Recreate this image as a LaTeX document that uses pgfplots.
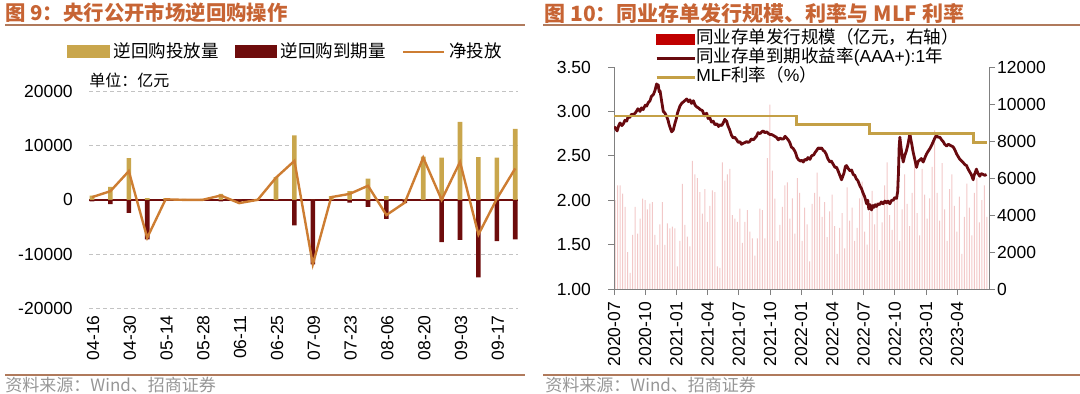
\documentclass[border=0pt]{standalone}
\usepackage{fontspec}
\setmainfont{Liberation Sans}
\newfontfamily\cjk{Noto Sans CJK SC}
\usepackage{pgfplots}
\usepackage{pgfplotstable}
\pgfplotsset{compat=1.18}
\definecolor{titlecol}{RGB}{199,100,52}
\definecolor{rulecol}{RGB}{176,122,92}
\definecolor{srccol}{RGB}{150,150,150}
\definecolor{tanbar}{RGB}{201,166,76}
\definecolor{darkbar}{RGB}{110,12,12}
\definecolor{netline}{RGB}{205,125,50}
\definecolor{gridgray}{RGB}{195,195,195}
\definecolor{yieldcol}{RGB}{105,10,15}
\definecolor{mlfcol}{RGB}{196,160,70}
\definecolor{pinkbar}{RGB}{242,200,200}
\definecolor{legred}{RGB}{192,0,0}
\definecolor{axisgray}{RGB}{128,128,128}

\pgfplotstableread{
i tan dark net
0 800 -300 500
1 2400 -800 1600
2 7700 -2400 5300
3 300 -7300 -7000
4 300 -200 100
5 200 -200 0
6 200 -200 0
7 1100 -300 800
8 0 -600 -600
9 200 -200 0
10 4200 -100 4100
11 11900 -4700 7200
12 0 -11900 -11900
13 700 -200 500
14 1600 -500 1100
15 3900 -1300 2600
16 700 -3500 -2800
17 100 -600 -500
18 8000 -200 7800
19 7800 -7800 0
20 14400 -7400 7000
21 7900 -14300 -6400
22 7800 -7600 200
23 13100 -7300 5800
}\repo

\pgfplotstableread{
m v
0.00 2.80
0.10 2.82
0.30 2.78
0.45 2.84
0.58 2.87
0.75 2.84
0.90 2.86
1.05 2.90
1.22 2.89
1.35 2.94
1.50 2.93
1.70 2.97
1.86 2.96
2.10 2.99
2.30 3.03
2.50 3.00
2.65 3.04
2.80 3.02
3.00 3.07
3.14 3.06
3.30 3.10
3.46 3.12
3.60 3.17
3.79 3.19
3.95 3.24
4.10 3.31
4.18 3.27
4.25 3.30
4.35 3.22
4.43 3.23
4.60 3.10
4.74 3.00
4.90 2.98
5.07 2.94
5.20 2.90
5.30 2.85
5.45 2.80
5.54 2.77
5.70 2.79
5.87 2.87
6.00 2.92
6.10 2.98
6.22 3.02
6.34 3.06
6.50 3.09
6.60 3.10
6.80 3.12
6.99 3.14
7.15 3.11
7.30 3.13
7.45 3.09
7.63 3.12
7.80 3.07
7.95 3.05
8.11 3.04
8.30 3.02
8.50 3.01
8.70 2.95
8.91 2.98
9.05 2.92
9.20 2.93
9.38 2.88
9.55 2.89
9.70 2.85
9.90 2.86
10.05 2.83
10.20 2.85
10.35 2.84
10.50 2.87
10.65 2.91
10.83 2.89
10.95 2.84
11.10 2.80
11.30 2.73
11.47 2.70
11.60 2.71
11.80 2.68
11.95 2.65
12.11 2.66
12.25 2.63
12.40 2.64
12.60 2.65
12.75 2.66
12.90 2.65
13.05 2.66
13.20 2.69
13.40 2.68
13.55 2.70
13.70 2.72
13.85 2.76
14.04 2.75
14.20 2.77
14.35 2.78
14.50 2.76
14.68 2.77
14.85 2.75
15.00 2.74
15.15 2.74
15.31 2.73
15.45 2.72
15.60 2.71
15.80 2.68
15.95 2.70
16.10 2.69
16.30 2.69
16.45 2.72
16.60 2.70
16.75 2.68
16.90 2.65
17.05 2.60
17.24 2.58
17.40 2.55
17.50 2.52
17.60 2.48
17.72 2.46
17.90 2.44
18.05 2.45
18.20 2.43
18.35 2.46
18.50 2.45
18.65 2.48
18.84 2.46
19.00 2.50
19.20 2.51
19.35 2.54
19.48 2.56
19.65 2.59
19.80 2.58
19.95 2.59
20.12 2.56
20.25 2.55
20.40 2.52
20.55 2.47
20.76 2.43
20.90 2.44
21.10 2.40
21.25 2.37
21.40 2.37
21.55 2.33
21.65 2.30
21.78 2.26
21.88 2.23
22.00 2.27
22.10 2.30
22.25 2.38
22.36 2.39
22.50 2.36
22.70 2.33
22.85 2.34
23.00 2.29
23.15 2.28
23.30 2.24
23.45 2.22
23.65 2.16
23.80 2.13
23.95 2.08
24.10 2.04
24.29 1.96
24.40 2.00
24.50 1.90
24.62 1.95
24.76 1.89
24.90 1.94
25.00 1.92
25.12 1.95
25.24 1.93
25.40 1.96
25.55 1.95
25.70 1.98
25.88 1.96
26.05 1.99
26.20 1.97
26.35 1.99
26.52 1.96
26.70 2.00
26.85 2.00
27.00 2.03
27.17 2.02
27.28 2.10
27.35 2.30
27.42 2.60
27.49 2.71
27.57 2.62
27.65 2.55
27.75 2.47
27.81 2.43
27.95 2.50
28.10 2.55
28.25 2.62
28.38 2.70
28.45 2.75
28.55 2.68
28.65 2.62
28.75 2.55
28.92 2.46
29.09 2.37
29.25 2.44
29.40 2.45
29.55 2.47
29.73 2.43
29.90 2.48
30.05 2.52
30.20 2.55
30.37 2.58
30.55 2.62
30.70 2.66
30.85 2.70
31.01 2.73
31.15 2.71
31.33 2.71
31.50 2.68
31.65 2.66
31.80 2.63
31.98 2.61
32.15 2.63
32.30 2.62
32.45 2.61
32.62 2.60
32.80 2.56
32.95 2.52
33.10 2.49
33.26 2.46
33.45 2.44
33.60 2.42
33.75 2.40
33.90 2.39
34.05 2.35
34.20 2.32
34.35 2.29
34.54 2.23
34.62 2.28
34.70 2.30
34.85 2.35
35.00 2.30
35.17 2.27
35.30 2.30
35.50 2.29
35.65 2.28
35.82 2.29
}\yield

\pgfplotstableread{
m v
0.00 2.95
17.56 2.95
17.56 2.85
24.54 2.85
24.54 2.75
34.54 2.75
34.54 2.65
35.82 2.65
}\mlf

\pgfplotstableread{
m v
0.10 4800
0.34 5600
0.58 5600
0.82 5150
1.06 4440
1.30 2000
1.54 870
1.78 2920
2.02 4440
2.26 3000
2.50 3810
2.74 4880
2.98 4800
3.22 4300
3.46 4620
3.70 4700
3.94 2920
4.18 2390
4.42 3500
4.66 4700
4.90 2390
5.14 3550
5.38 3280
5.62 3370
5.86 3280
6.10 1230
6.34 2600
6.58 5680
6.82 3460
7.06 2830
7.30 2300
7.54 6930
7.78 6200
8.02 6000
8.26 5240
8.50 4080
8.74 5400
8.98 3630
9.22 4500
9.46 5330
9.70 5240
9.94 1230
10.18 1140
10.42 6840
10.66 5860
10.90 6200
11.14 6500
11.38 3990
11.62 3810
11.86 3630
12.10 4350
12.34 2500
12.58 3630
12.82 4260
13.06 3100
13.30 2740
13.54 1800
13.78 2740
14.02 4350
14.26 4260
14.50 2740
14.74 7080
14.98 9970
15.22 6400
15.46 4880
15.70 2600
15.94 3460
16.18 4440
16.42 5600
16.66 5770
16.90 3800
17.14 4900
17.38 3000
17.62 6000
17.86 5200
18.10 2600
18.34 4400
18.58 3500
18.82 1500
19.06 4600
19.30 5200
19.54 6290
19.78 5000
20.02 3900
20.26 4700
20.50 2800
20.74 4200
20.98 5100
21.22 3400
21.46 1900
21.70 3300
21.94 4100
22.18 2200
22.42 5500
22.66 3700
22.90 4400
23.14 2600
23.38 3300
23.62 4900
23.86 5800
24.10 3100
24.34 2400
24.58 4200
24.82 5300
25.06 3500
25.30 4700
25.54 2100
25.78 3600
26.02 5600
26.26 6840
26.50 4000
26.74 3200
26.98 5000
27.22 6000
27.46 2600
27.70 4300
27.94 6200
28.18 4600
28.42 3400
28.66 5200
28.90 7000
29.14 4100
29.38 2900
29.62 6500
29.86 5100
30.10 3800
30.34 4900
30.58 6600
30.82 8580
31.06 5200
31.30 3700
31.54 6800
31.78 4300
32.02 2600
32.26 5400
32.50 6200
32.74 4500
32.98 3100
33.22 5000
33.46 1900
33.70 3900
33.94 5700
34.18 4400
34.42 2900
34.66 5200
34.90 6000
35.14 3600
35.38 4800
35.62 5600
35.86 3900
}\ncd

\begin{document}
\begin{tikzpicture}
\path[use as bounding box] (0pt,0pt) rectangle (540pt,196.5pt);

% ---------- Left panel ----------
\node[anchor=west, inner sep=0pt, text=titlecol, font=\cjk\bfseries\fontsize{10.2pt}{12pt}\selectfont] at (2.5pt,190pt) {图 9：央行公开市场逆回购操作};
\draw[rulecol, line width=1pt] (2.5pt,184pt) -- (262.5pt,184pt);
\draw[rulecol, line width=1pt] (2.5pt,9pt) -- (262.5pt,9pt);
\node[anchor=west, inner sep=0pt, text=srccol, font=\cjk\fontsize{8.5pt}{10pt}\selectfont] at (2.5pt,4pt) {资料来源：Wind、招商证券};
\node[anchor=west, inner sep=0pt, font=\cjk\fontsize{8pt}{9pt}\selectfont] at (44.5pt,156.5pt) {单位：亿元};

\begin{axis}[
  at={(44.5pt,42.4pt)}, anchor=south west, scale only axis,
  width=214.5pt, height=108.35pt,
  xmin=-0.163, xmax=23.15, ymin=-20000, ymax=20000,
  scaled x ticks=false, scaled y ticks=false,
  axis line style={draw=none}, major tick length=0pt,
  xtick={0,2,...,22},
  xticklabels={04-16,04-30,05-14,05-28,06-11,06-25,07-09,07-23,08-06,08-20,09-03,09-17},
  xticklabel style={rotate=90, anchor=east, font=\fontsize{8.75pt}{10pt}\selectfont, yshift=-0.5pt},
  ytick={-20000,-10000,10000,20000},
  yticklabels={-20000,-10000,10000,20000},
  yticklabel style={font=\fontsize{8.75pt}{10pt}\selectfont, xshift=-4.6pt},
  ymajorgrids, major grid style={gridgray, dash pattern=on 2pt off 1.5pt, line width=0.5pt},
  extra y ticks={0}, extra y tick labels={0},
  extra y tick style={grid=major, major grid style={solid, draw=darkbar, line width=0.8pt}},
  legend columns=3,
  legend style={at={(axis description cs:0.46,1.182)}, anchor=center, draw=none, fill=none,
    font=\cjk\fontsize{8.75pt}{10pt}\selectfont,
    /tikz/every even column/.append style={column sep=6pt}},
]
\addplot[ybar, bar width=2.3pt, bar shift=0pt, fill=tanbar, draw=none,
  legend image code/.code={\fill[tanbar] (0pt,-3pt) rectangle (21.5pt,3.5pt);}]
  table[x=i, y=tan] {\repo};
\addlegendentry{逆回购投放量}
\addplot[ybar, bar width=2.3pt, bar shift=0pt, fill=darkbar, draw=none,
  legend image code/.code={\fill[darkbar] (0pt,-3pt) rectangle (21pt,3.5pt);}]
  table[x=i, y=dark] {\repo};
\addlegendentry{逆回购到期量}
\addplot[netline, line width=1.2pt, no marks,
  legend image code/.code={\draw[netline, line width=1.2pt] (0pt,0pt) -- (20.5pt,0pt);}]
  table[x=i, y=net] {\repo};
\addlegendentry{净投放}
\end{axis}

% ---------- Right panel ----------
\node[anchor=west, inner sep=0pt, text=titlecol, font=\cjk\bfseries\fontsize{10.5pt}{12pt}\selectfont] at (272pt,190pt) {图 10：同业存单发行规模、利率与 MLF 利率};
\draw[rulecol, line width=1pt] (271.5pt,184pt) -- (540pt,184pt);
\draw[rulecol, line width=1pt] (271.5pt,9pt) -- (540pt,9pt);
\node[anchor=west, inner sep=0pt, text=srccol, font=\cjk\fontsize{8.5pt}{10pt}\selectfont] at (272.5pt,4pt) {资料来源：Wind、招商证券};

\begin{axis}[
  at={(307pt,52pt)}, anchor=south west, scale only axis,
  width=187.5pt, height=111pt,
  xmin=0, xmax=36.06, ymin=0, ymax=12000,
  scaled x ticks=false, scaled y ticks=false,
  hide x axis, axis y line*=right,
  axis line style={draw=axisgray, line width=0.5pt},
  tick style={draw=axisgray, line width=0.5pt},
  tick align=outside, major tick length=3pt,
  ytick={0,2000,4000,6000,8000,10000,12000},
  yticklabels={0,2000,4000,6000,8000,10000,12000},
  yticklabel style={font=\fontsize{8.75pt}{10pt}\selectfont, anchor=west, xshift=-2.5pt},
]
\addplot[ybar, bar width=0.5pt, bar shift=0pt, fill=pinkbar, draw=none] table[x=m, y=v] {\ncd};
\end{axis}

\begin{axis}[
  at={(307pt,52pt)}, anchor=south west, scale only axis,
  width=187.5pt, height=111pt,
  xmin=0, xmax=36.06, ymin=1, ymax=3.5,
  scaled x ticks=false, scaled y ticks=false,
  axis y line*=left, axis x line*=bottom,
  axis line style={draw=axisgray, line width=0.5pt},
  tick style={draw=axisgray, line width=0.5pt},
  tick align=outside, major tick length=3pt,
  xtick={0,3,...,33},
  xticklabels={2020-07,2020-10,2021-01,2021-04,2021-07,2021-10,2022-01,2022-04,2022-07,2022-10,2023-01,2023-04},
  xticklabel style={rotate=90, anchor=east, font=\fontsize{8.75pt}{10pt}\selectfont},
  ytick={1,1.5,2,2.5,3,3.5},
  yticklabels={1.00,1.50,2.00,2.50,3.00,3.50},
  yticklabel style={font=\fontsize{8.75pt}{10pt}\selectfont, anchor=east, xshift=-5pt},
  legend cell align=left,
  legend style={at={(axis description cs:0.109,1.169)}, anchor=north west, draw=none, fill=none,
    inner sep=0pt, font=\fontsize{8.75pt}{10pt}\selectfont, row sep=0pt,
    nodes={inner sep=0.25pt, text height=6.7pt, text depth=2.3pt}},
]
\addlegendimage{legend image code/.code={\fill[legred] (0pt,-2.5pt) rectangle (19pt,2.5pt);}}
\addlegendentry{{\cjk 同业存单发行规模（亿元，右轴）}}
\addplot[yieldcol, line width=1.4pt, no marks, line join=round,
  legend image code/.code={\draw[yieldcol, line width=1.25pt] (0pt,0pt) -- (19pt,0pt);}]
  table[x=m, y=v] {\yield};
\addlegendentry{{\cjk 同业存单到期收益率}(AAA+):1{\cjk 年}}
\addplot[mlfcol, line width=1.3pt, no marks,
  legend image code/.code={\draw[mlfcol, line width=1.25pt] (0pt,0pt) -- (19pt,0pt);}]
  table[x=m, y=v] {\mlf};
\addlegendentry{MLF{\cjk 利率（}\%{\cjk ）}}
\end{axis}
\end{tikzpicture}
\end{document}
